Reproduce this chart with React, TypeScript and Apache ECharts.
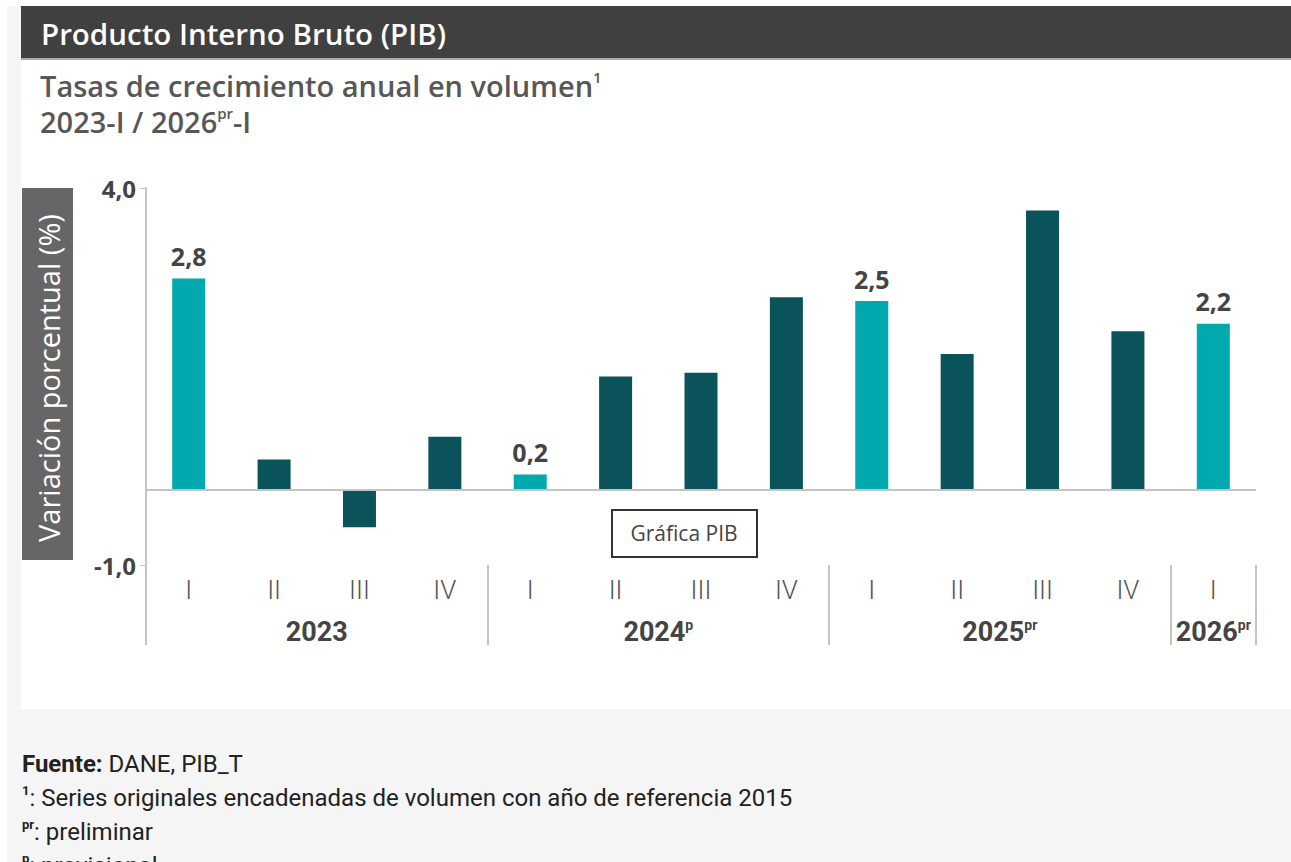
import React, { useEffect, useRef } from 'react';
import * as echarts from 'echarts';

// ---- data ----
const quarters = ['I', 'II', 'III', 'IV', 'I', 'II', 'III', 'IV', 'I', 'II', 'III', 'IV', 'I'];
const values = [2.8, 0.4, -0.5, 0.7, 0.2, 1.5, 1.55, 2.55, 2.5, 1.8, 3.7, 2.1, 2.2];
const yearBase = ['2023', '2024', '2025', '2026'];
const yearSup = ['', 'p', 'pr', 'pr'];
const yearCenters = [2, 6, 10, 12.5];
const yearBounds = [0, 4, 8, 12, 13];
const yTickValues = [-1, 4];
const highlightQuarter = 'I';

const CYAN = '#00A9AE';
const DARK = '#0A535B';
const AXIS = '#C4C4C4';
const TXT = '#444444';

const fmt = (v: number) => v.toFixed(1).replace('.', ',');

export default function App() {
  const ref = useRef<HTMLDivElement>(null);
  useEffect(() => {
    if (!ref.current) return;
    const chart = echarts.init(ref.current, undefined, { renderer: 'svg' });
    const cats = quarters.map((q, i) => `${q}-${i}`);
    const barData = values.map((v, i) => {
      const hi = quarters[i] === highlightQuarter;
      return {
        value: v,
        itemStyle: { color: hi ? CYAN : DARK },
        label: { show: hi },
      };
    });
    const subStyle = { fontFamily: 'Open Sans', fontWeight: 600, fontSize: 29, lineHeight: 33, fill: '#575757' };
    const subSup = { fontFamily: 'Open Sans', fontWeight: 600, fontSize: 15, lineHeight: 17, fill: '#575757', verticalAlign: 'top' };
    const footN = { fontFamily: 'Roboto', fontSize: 24, lineHeight: 28, fill: '#222222' };
    const footB = { fontFamily: 'Roboto', fontSize: 24, lineHeight: 28, fontWeight: 'bold', fill: '#222222' };
    const footS = { fontFamily: 'Roboto', fontSize: 13, lineHeight: 15, fontWeight: 'bold', fill: '#222222', verticalAlign: 'top' };
    chart.setOption({
      animation: false,
      backgroundColor: '#ffffff',
      grid: { left: 146, right: 35, top: 188, bottom: 297, containLabel: false },
      xAxis: [
        {
          type: 'category',
          data: cats,
          position: 'bottom',
          axisLine: { show: false },
          axisTick: { show: false },
          axisLabel: {
            formatter: (v: string) => v.split('-')[0],
            color: '#555',
            fontFamily: 'Roboto',
            fontWeight: 300,
            fontSize: 26,
            margin: 12,
          },
        },
        {
          type: 'value',
          min: 0,
          max: 13,
          position: 'bottom',
          splitLine: { show: false },
          axisLine: { show: false },
          axisTick: {
            show: true,
            customValues: yearBounds,
            length: 80,
            lineStyle: { color: AXIS, width: 2 },
          },
          axisLabel: {
            customValues: yearCenters,
            formatter: (v: number) => {
              const k = yearCenters.indexOf(v);
              if (k < 0) return '';
              return yearSup[k] ? `${yearBase[k]}{s|${yearSup[k]}}` : yearBase[k];
            },
            color: TXT,
            fontFamily: 'Roboto',
            fontWeight: 'bold',
            fontSize: 27,
            margin: 53,
            rich: {
              s: { fontFamily: 'Roboto', fontWeight: 'bold', fontSize: 14, color: TXT, verticalAlign: 'top' },
            },
          },
        },
      ],
      yAxis: {
        type: 'value',
        min: -1,
        max: 4,
        splitLine: { show: false },
        axisLine: { show: true, lineStyle: { color: AXIS, width: 2 } },
        axisTick: { show: true, customValues: yTickValues, length: 6, lineStyle: { color: AXIS, width: 1 } },
        axisLabel: {
          customValues: yTickValues,
          formatter: (v: number) => fmt(v),
          color: TXT,
          fontFamily: 'Open Sans',
          fontWeight: 'bold',
          fontSize: 24,
          margin: 10,
        },
      },
      series: [
        {
          type: 'bar',
          xAxisIndex: 0,
          yAxisIndex: 0,
          data: barData,
          barWidth: 33,
          label: {
            position: 'top',
            distance: 10,
            formatter: (p: any) => fmt(p.value),
            color: TXT,
            fontFamily: 'Open Sans',
            fontWeight: 'bold',
            fontSize: 25,
          },
          markLine: {
            silent: true,
            symbol: 'none',
            label: { show: false },
            lineStyle: { color: AXIS, type: 'solid', width: 2 },
            data: [{ yAxis: 0 }],
          },
        },
      ],
      graphic: [
        { type: 'rect', z: -10, shape: { x: 7, y: 6, width: 1284, height: 856 }, style: { fill: '#F5F5F5' } },
        { type: 'rect', z: -9, shape: { x: 21, y: 58, width: 1270, height: 651 }, style: { fill: '#FFFFFF' } },
        { type: 'rect', z: -8, shape: { x: 21, y: 6, width: 1270, height: 52 }, style: { fill: '#404040' } },
        { type: 'rect', z: -8, shape: { x: 21, y: 58, width: 1270, height: 2 }, style: { fill: '#A8A8A8' } },
        {
          type: 'text', x: 41, y: 33,
          style: { text: 'Producto Interno Bruto (PIB)', fill: '#FFFFFF', fontFamily: 'Open Sans', fontWeight: 600, fontSize: 29.5, verticalAlign: 'middle' },
        },
        {
          type: 'text', x: 40, y: 69,
          style: {
            text: '{n|Tasas de crecimiento anual en volumen}{s|1}',
            rich: { n: subStyle, s: subSup },
          },
        },
        {
          type: 'text', x: 40, y: 105,
          style: {
            text: '{n|2023-I / 2026}{s|pr}{n|-I}',
            rich: { n: subStyle, s: subSup },
          },
        },
        { type: 'rect', shape: { x: 22, y: 188, width: 51, height: 372 }, style: { fill: '#666666' } },
        {
          type: 'text', x: 48, y: 378, rotation: Math.PI / 2,
          style: { text: 'Variación porcentual (%)', fill: '#FFFFFF', fontFamily: 'Open Sans', fontSize: 29, align: 'center', verticalAlign: 'middle' },
        },
        {
          type: 'rect', z: 20, shape: { x: 612, y: 510, width: 145, height: 47 },
          style: { fill: '#FFFFFF', stroke: '#333333', lineWidth: 2 },
        },
        {
          type: 'text', z: 21, x: 684, y: 533,
          style: { text: 'Gráfica PIB', fill: '#444444', fontFamily: 'Open Sans', fontSize: 21, align: 'center', verticalAlign: 'middle' },
        },
        {
          type: 'text', x: 22, y: 750,
          style: { text: '{b|Fuente:}{n| DANE, PIB_T}', rich: { b: footB, n: footN } },
        },
        {
          type: 'text', x: 22, y: 784,
          style: { text: '{s|1}{n|: Series originales encadenadas de volumen con año de referencia 2015}', rich: { s: footS, n: footN } },
        },
        {
          type: 'text', x: 22, y: 818,
          style: { text: '{s|pr}{n|: preliminar}', rich: { s: footS, n: footN } },
        },
        {
          type: 'text', x: 22, y: 852,
          style: { text: '{s|p}{n|: provisional}', rich: { s: footS, n: footN } },
        },
      ],
    });
    return () => chart.dispose();
  }, []);
  return <div ref={ref} style={{ position: 'fixed', left: 0, top: 0, width: 1291, height: 862 }} />;
}
